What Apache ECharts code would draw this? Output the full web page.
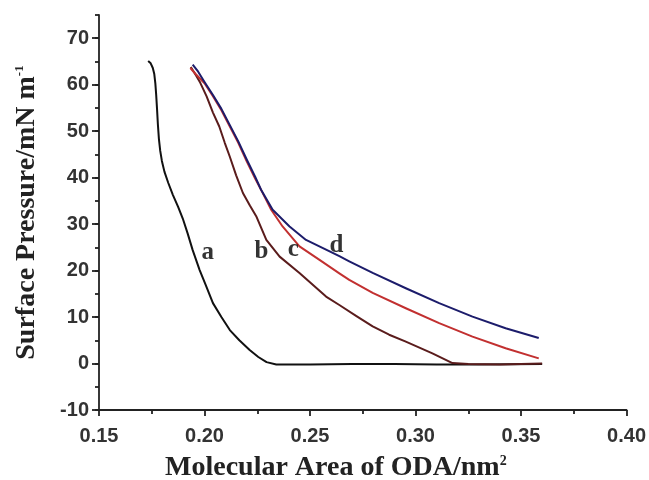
<!DOCTYPE html>
<html>
<head>
<meta charset="utf-8">
<script src="https://cdn.jsdelivr.net/npm/echarts@6/dist/echarts.min.js"></script>
<style>
  html, body { margin: 0; padding: 0; background: #fff; }
  #chart { width: 649px; height: 480px; }
</style>
</head>
<body>
<div id="chart"></div>
<script>
// Surface pressure–area isotherms, curves a–d
const curveA = [
  [0.1733, 65.1], [0.1745, 64.6], [0.1755, 63.6], [0.1762, 62.3], [0.1767, 60.3],
  [0.1771, 57.8], [0.1775, 54.8], [0.1779, 51.5], [0.1784, 48.3], [0.1790, 45.8],
  [0.1798, 43.6], [0.1810, 41.3], [0.1828, 38.9], [0.1850, 36.3], [0.1875, 33.7],
  [0.1897, 31.2], [0.1920, 28.0], [0.1944, 24.4], [0.1977, 20.1], [0.2005, 17.0],
  [0.2040, 13.0], [0.2080, 10.0], [0.2120, 7.2], [0.2165, 5.0], [0.2214, 2.9],
  [0.2255, 1.4], [0.2294, 0.3], [0.2340, -0.2], [0.2500, -0.2], [0.2700, -0.1],
  [0.2900, -0.1], [0.3100, -0.2], [0.3300, -0.2], [0.3600, -0.1]
];
const curveB = [
  [0.1935, 63.8], [0.1960, 62.0], [0.1980, 60.4], [0.2010, 57.5], [0.2040, 54.0],
  [0.2070, 51.0], [0.2096, 47.5], [0.2120, 44.5], [0.2150, 40.5], [0.2182, 36.7],
  [0.2215, 34.0], [0.2245, 31.7], [0.2293, 26.6], [0.2356, 23.0], [0.2450, 19.5],
  [0.2576, 14.4], [0.2639, 12.6], [0.2720, 10.2], [0.2797, 8.0], [0.2875, 6.2],
  [0.2954, 4.7], [0.3080, 2.2], [0.3175, 0.1], [0.3250, -0.1], [0.3400, -0.2],
  [0.3600, 0.0]
];
const curveC = [
  [0.1933, 63.6], [0.1960, 62.2], [0.2000, 60.3], [0.2040, 57.5], [0.2080, 54.5],
  [0.2120, 51.0], [0.2160, 47.5], [0.2200, 43.5], [0.2240, 39.8], [0.2270, 37.2],
  [0.2316, 33.1], [0.2370, 29.5], [0.2450, 25.2], [0.2545, 22.3], [0.2639, 19.4],
  [0.2686, 18.0], [0.2797, 15.2], [0.2954, 11.9], [0.3112, 8.7], [0.3270, 5.8],
  [0.3427, 3.3], [0.3584, 1.1]
];
const curveD = [
  [0.1944, 64.3], [0.1970, 62.8], [0.2000, 60.6], [0.2040, 57.8], [0.2080, 54.8],
  [0.2120, 51.3], [0.2160, 47.8], [0.2200, 43.9], [0.2240, 40.2], [0.2268, 37.4],
  [0.2323, 33.1], [0.2403, 29.5], [0.2481, 26.6], [0.2576, 24.5], [0.2639, 23.1],
  [0.2686, 22.0], [0.2797, 19.5], [0.2954, 16.2], [0.3112, 13.0], [0.3270, 10.1],
  [0.3427, 7.6], [0.3584, 5.5]
];
const curveNames = ['a', 'b', 'c', 'd'];
const curveColors = ['#111111', '#5a1c1c', '#c23030', '#1c1c6b'];
const labelAnchors = [[0.2015, 23.8], [0.2270, 24.0], [0.2421, 24.5], [0.2625, 25.3]];

const yMajorTicks = [-10, 0, 10, 20, 30, 40, 50, 60, 70];

const chart = echarts.init(document.getElementById('chart'));

const tickFont = { fontFamily: 'Liberation Sans, Arial, sans-serif', fontWeight: 'bold', fontSize: 20, color: '#333' };
const axisColor = '#222';

const lineSeries = [curveA, curveB, curveC, curveD].map((d, i) => ({
  type: 'line',
  name: curveNames[i],
  data: d,
  showSymbol: false,
  smooth: false,
  lineStyle: { color: curveColors[i], width: 2, join: 'round' },
  z: 2 + (i === 3 ? 1 : 0)
}));

const labelSeries = {
  type: 'scatter',
  symbolSize: 0,
  data: labelAnchors.map((p, i) => ({ value: p, name: curveNames[i] })),
  label: {
    show: true,
    position: 'inside',
    formatter: (p) => p.name,
    fontFamily: 'Liberation Serif, Times New Roman, serif',
    fontWeight: 'bold',
    fontSize: 25,
    color: '#000'
  },
  silent: true,
  z: 5
};

chart.setOption({
  animation: false,
  backgroundColor: '#fff',
  grid: { left: 99, right: 21, top: 15, bottom: 70, containLabel: false },
  xAxis: {
    type: 'value',
    min: 0.15,
    max: 0.40,
    interval: 0.05,
    splitLine: { show: false },
    axisLine: { onZero: false, lineStyle: { color: axisColor, width: 1.8 } },
    axisTick: { show: true, length: 6, lineStyle: { color: axisColor, width: 1.8 } },
    minorTick: { show: true, splitNumber: 2, length: 4, lineStyle: { color: axisColor, width: 1.8 } },
    axisLabel: Object.assign({ margin: 16, formatter: (v) => v.toFixed(2) }, tickFont)
  },
  yAxis: [
    {
      type: 'value',
      min: -10,
      max: 75,
      interval: 5,
      splitLine: { show: false },
      axisLine: { show: true, onZero: false, lineStyle: { color: axisColor, width: 1.8 } },
      axisTick: { show: true, length: 4, lineStyle: { color: axisColor, width: 1.8 } },
      axisLabel: Object.assign({
        margin: 10,
        formatter: (v) => (v % 10 === 0 ? String(v) : '')
      }, tickFont),
      name: 'Surface Pressure/mN m{sup|-1}',
      nameLocation: 'middle',
      nameGap: 58,
      nameRotate: 90,
      nameTextStyle: {
        fontFamily: 'Liberation Serif, Times New Roman, serif',
        fontWeight: 'bold',
        fontSize: 28,
        color: '#222',
        rich: {
          sup: { fontFamily: 'Liberation Serif, serif', fontWeight: 'bold', fontSize: 13, color: '#222', verticalAlign: 'top', padding: [0, 0, 12, 0] }
        }
      }
    },
    {
      type: 'value',
      min: -10,
      max: 75,
      interval: 10,
      position: 'left',
      offset: 0,
      splitLine: { show: false },
      axisLine: { show: false },
      axisTick: { show: true, length: 7, customValues: yMajorTicks, lineStyle: { color: axisColor, width: 1.8 } },
      axisLabel: { show: false }
    }
  ],
  graphic: [{
    type: 'text',
    x: 165,
    y: 468,
    style: {
      text: 'Molecular Area of ODA/nm{sup|2}',
      font: 'bold 28px "Liberation Serif", serif',
      fill: '#222',
      verticalAlign: 'middle',
      rich: {
        sup: { font: 'bold 14px "Liberation Serif", serif', fill: '#222', verticalAlign: 'top', padding: [0, 0, 12, 0] }
      }
    }
  }],
  series: lineSeries.concat([labelSeries])
});
</script>
</body>
</html>
